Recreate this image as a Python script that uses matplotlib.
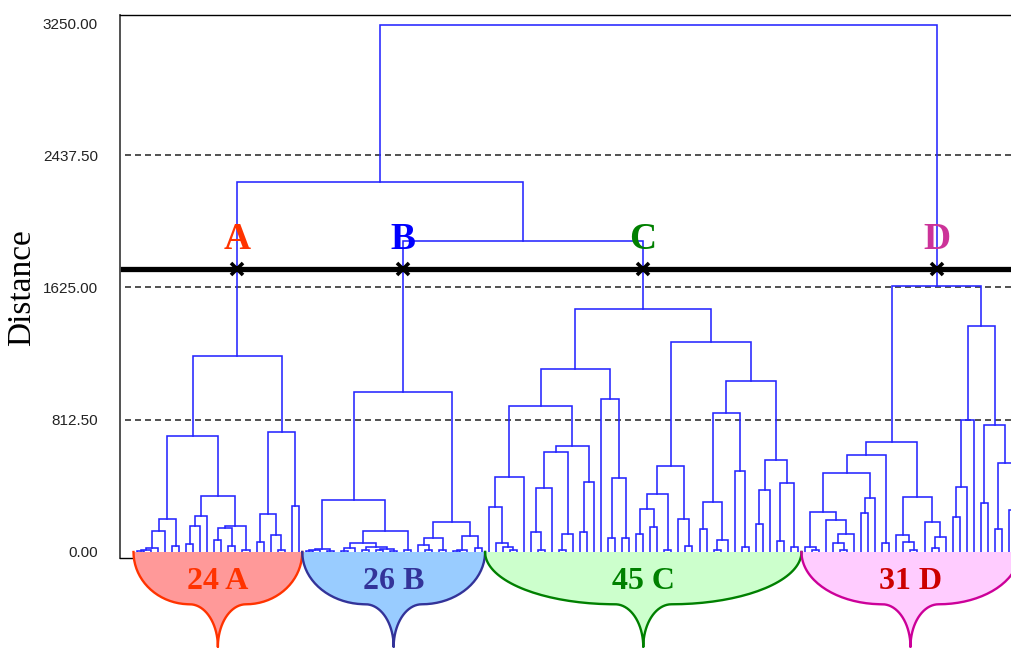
import numpy as np
import matplotlib.pyplot as plt

# ---------------- data ----------------
L = 0  # one sample (a leaf of the dendrogram)

# every merge is written as [height, left, right]
tree_A = [1204,
          [711,
           [203,
            [130, [20, [8, [5, L, L], L], L], L],
            [34, L, L]],
           [345,
            [219, [158, [47, L, L], L], L],
            [158, [146, [71, L, L], [34, L, L]], [10, L, L]]]],
          [738,
           [234, [57, L, L], [102, L, [10, L, L]]],
           [280, L, L]]]

tree_B = [985,
          [320,
           [14, [10, [6, L, L], L], [6, L, L]],
           [128,
            [51, [20, [6, L, L], L], [30, [8, L, L], [18, [12, L, L], [6, L, L]]]],
            [8, L, L]]],
          [185,
           [81, [41, L, [8, L, L]], [10, L, L]],
           [95, [12, [6, L, L], L], [22, L, L]]]]

tree_C = [1491,
          [1122,
           [896,
            [461, [277, L, [51, L, [28, L, [8, L, L]]]], L],
            [650,
             [615, [389, [122, L, [8, L, L]], L], [108, [8, L, L], L]],
             [430, [122, L, L], L]]],
           [937, L, [451, [87, L, L], [81, L, L]]]],
          [1287,
           [526,
            [357, [262, [108, L, L], [152, L, L]], [8, L, L]],
            [203, L, [37, L, L]]],
           [1051,
            [850, [305, [142, L, L], [71, [8, L, L], L]], [498, L, [30, L, L]]],
            [564, [378, [170, L, L], L], [420, [67, L, L], [26, L, L]]]]]]

tree_D = [1635,
          [677,
           [594,
            [481,
             [246, [26, L, [8, L, L]], [193, L, [108, [55, L, [10, L, L]], L]]],
             [328, [236, L, L], L]],
            [55, L, L]],
           [338,
            [102, L, [57, L, [8, L, L]]],
            [183, L, [91, [20, L, L], L]]]],
          [1388,
           [810, [399, [214, L, L], L], L],
           [779, [297, L, L], [543, [142, L, L], [256, L, L]]]]]

bc_height = 1911      # B joins C
abc_height = 2274     # A joins (B, C)
root_height = 3239    # (A, B, C) joins D
cut_height = 1739     # thick cutting line

cluster_names = ['A', 'B', 'C', 'D']
cluster_sizes = [24, 26, 45, 31]
cluster_trees = [tree_A, tree_B, tree_C, tree_D]
letter_colors = ['#FF3300', '#0000FF', '#008000', '#CC3399']
bulb_faces = ['#FF9999', '#99CCFF', '#CCFFCC', '#FFCCFF']
bulb_edges = ['#FF3300', '#333399', '#008000', '#CC0099']
bulb_text_colors = ['#FF3300', '#333399', '#008000', '#CC0000']

tick_values = [0, 812.5, 1625, 2437.5, 3250]
dashed_levels = [812.5, 1625, 2437.5]

LINE_BLUE = '#2626FF'

# ---------------- figure ----------------
fig = plt.figure(figsize=(10.12, 6.48), dpi=100)
ax = fig.add_axes([120 / 1012, 90 / 648, 910 / 1012, 543 / 648])
ax.set_xlim(-2.42, 127.0)
ax.set_ylim(-39, 3301)

segments = []


def layout(node, counter):
    # place leaves left to right, return (x, height) of the node
    if not isinstance(node, list):
        x = counter[0]
        counter[0] += 1
        return x, 0.0
    h, left, right = node
    xl, hl = layout(left, counter)
    xr, hr = layout(right, counter)
    segments.append(([xl, xl, xr, xr], [hl, h, h, hr]))
    return (xl + xr) / 2, h


def link(a, b, h):
    segments.append(([a[0], a[0], b[0], b[0]], [a[1], h, h, b[1]]))
    return (a[0] + b[0]) / 2, h


counter = [0]
roots = []
spans = []
for tree, size in zip(cluster_trees, cluster_sizes):
    start = counter[0]
    roots.append(layout(tree, counter))
    assert counter[0] - start == size
    spans.append((start - 0.5, counter[0] - 0.5))

bc = link(roots[1], roots[2], bc_height)
abc = link(roots[0], bc, abc_height)
link(abc, roots[3], root_height)

for xs, ys in segments:
    ax.plot(xs, ys, color=LINE_BLUE, lw=1.15, solid_joinstyle='miter', zorder=3)

# reference levels
for lvl in dashed_levels:
    ax.axhline(lvl, xmin=0.006, color='#333333', lw=1.2, ls=(0, (3.6, 2.4)), zorder=2)

ax.axhline(cut_height, xmin=0.003, color='black', lw=3.8, zorder=4)
for (x, h), name, col in zip(roots, cluster_names, letter_colors):
    ax.plot(x, cut_height, marker='x', ms=8, mew=2.6, color='black', zorder=5)
    ax.text(x, cut_height + 125, name, ha='center', va='baseline', color=col,
            fontsize=27, fontweight='bold', family='Liberation Serif', zorder=6)

# axes styling
ax.set_yticks(tick_values)
ax.set_yticklabels(['%.2f' % v for v in tick_values], family='Liberation Sans', fontsize=11)
ax.tick_params(axis='y', length=0, pad=16, colors='#222222')
ax.set_xticks([])
ax.spines['left'].set_color('#444444')
ax.spines['left'].set_linewidth(1.3)
ax.spines['top'].set_linewidth(1.0)
ax.spines['bottom'].set_linewidth(1.0)

fig.text(22 / 1012, 1 - 288 / 648, 'Distance', rotation=90, ha='center', va='center',
         fontsize=24, family='Liberation Serif')

# ---------------- cluster bulbs under the axis ----------------
axb = fig.add_axes([120 / 1012, 0, 910 / 1012, 96 / 648])
axb.set_xlim(ax.get_xlim())
axb.set_ylim(-0.01, 1.0)
axb.axis('off')


def bulb(x0, x1, face, edge, neck=4.0, knee=0.45):
    c = (x0 + x1) / 2
    w = (x1 - x0) / 2
    t = np.linspace(0, np.pi / 2, 40)
    ux = c - neck - (w - neck) * np.cos(t)
    uy = 1 - (1 - knee) * np.sin(t)
    lx = c - neck + neck * np.sin(t)
    ly = knee * np.cos(t)
    left_x = np.concatenate([ux, lx])
    left_y = np.concatenate([uy, ly])
    xs = np.concatenate([left_x, 2 * c - left_x[::-1]])
    ys = np.concatenate([left_y, left_y[::-1]])
    axb.fill(xs, ys, color=face, lw=0, clip_on=False)
    axb.plot(xs, ys, color=edge, lw=1.7, clip_on=False)
    return c


for (x0, x1), name, size, face, edge, tcol in zip(spans, cluster_names, cluster_sizes,
                                                 bulb_faces, bulb_edges, bulb_text_colors):
    c = bulb(x0, x1, face, edge)
    axb.text(c, 0.69, '%d %s' % (size, name), ha='center', va='center', color=tcol,
             fontsize=23, fontweight='bold', family='Liberation Serif')

fig.savefig('out.png', dpi=100)
